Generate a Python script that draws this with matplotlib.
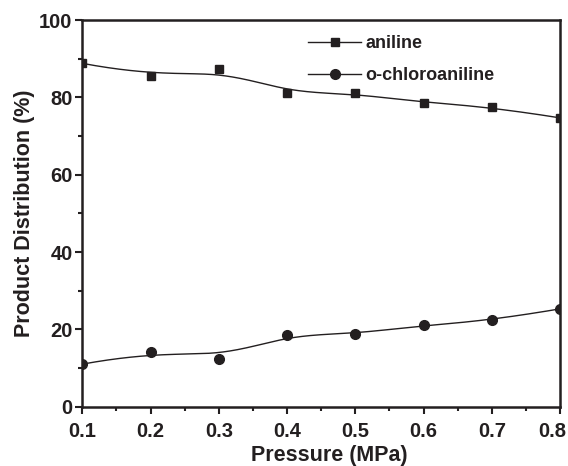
import numpy as np
import matplotlib
matplotlib.use("Agg")
import matplotlib.pyplot as plt
from matplotlib.ticker import MultipleLocator
from matplotlib.transforms import ScaledTranslation

pressure = [0.1, 0.2, 0.3, 0.4, 0.5, 0.6, 0.7, 0.8]
aniline = [88.8, 85.5, 87.4, 81.2, 81.0, 78.6, 77.5, 74.7]
chloroaniline = [11.0, 14.2, 12.4, 18.6, 18.8, 21.1, 22.3, 25.3]
series_labels = ["aniline", "o-chloroaniline"]
x_ticks = [0.1, 0.2, 0.3, 0.4, 0.5, 0.6, 0.7, 0.8]
y_ticks = [0, 20, 40, 60, 80, 100]


def bspline(xs, ys, k=3, num=300):
    """Clamped uniform B-spline with the data as control points (Origin-style B-spline)."""
    P = np.column_stack([xs, ys]).astype(float)
    n = len(P)
    inner = np.arange(1, n - k)
    knots = np.concatenate([np.zeros(k + 1), inner, np.full(k + 1, n - k)]).astype(float)
    t = np.linspace(0, n - k, num)
    t[-1] -= 1e-9
    N = np.zeros((num, len(knots) - 1))
    for i in range(len(knots) - 1):
        N[:, i] = np.where((t >= knots[i]) & (t < knots[i + 1]), 1.0, 0.0)
    for d in range(1, k + 1):
        Nn = np.zeros((num, len(knots) - 1 - d))
        for i in range(len(knots) - 1 - d):
            a = knots[i + d] - knots[i]
            b = knots[i + d + 1] - knots[i + 1]
            term = np.zeros(num)
            if a > 0:
                term += (t - knots[i]) / a * N[:, i]
            if b > 0:
                term += (knots[i + d + 1] - t) / b * N[:, i + 1]
            Nn[:, i] = term
        N = Nn
    C = N @ P
    return C[:, 0], C[:, 1]


plt.rcParams['font.family'] = ['Liberation Sans', 'DejaVu Sans']
plt.rcParams['font.weight'] = 'bold'
INK = '#231f20'

fig = plt.figure(figsize=(5.68, 4.66), dpi=100)
ax = fig.add_axes([0.1449, 0.1273, 0.9859 - 0.1449, 0.957 - 0.1273])

for ys, marker, ms, lab in [(aniline, 's', 6.2, series_labels[0]),
                            (chloroaniline, 'o', 7.0, series_labels[1])]:
    cx, cy = bspline(pressure, ys)
    ax.plot(cx, cy, color=INK, lw=1.0)
    ax.plot(pressure, ys, linestyle='none', marker=marker, ms=ms, color=INK)
    ax.plot([], [], color=INK, lw=1.0, marker=marker, ms=ms, label=lab)

ax.set_xlim(0.1, 0.8)
ax.set_ylim(0, 100)
ax.set_xticks(x_ticks)
ax.set_yticks(y_ticks)
ax.set_xticklabels([f"{v:.1f}" for v in x_ticks])
ax.set_yticklabels([str(v) for v in y_ticks])
ax.xaxis.set_minor_locator(MultipleLocator(0.05))
ax.yaxis.set_minor_locator(MultipleLocator(10))
ax.tick_params(which='major', direction='out', length=5, width=1.5, labelsize=14.5,
               colors=INK)
ax.tick_params(axis='x', which='major', pad=6)
ax.tick_params(axis='y', which='major', pad=2)
ax.tick_params(which='minor', direction='out', length=3, width=1.5, colors=INK)
for s in ax.spines.values():
    s.set_linewidth(1.8)
    s.set_color(INK)

# nudge last x tick label so it stays inside the canvas
lbl = ax.get_xticklabels()[-1]
lbl.set_transform(lbl.get_transform() + ScaledTranslation(-8 / 100, 0, fig.dpi_scale_trans))

ax.set_xlabel("Pressure (MPa)", fontsize=15.5, fontweight='bold', color=INK, labelpad=3)
ax.xaxis.label.set_x(0.517)
ax.set_ylabel("Product Distribution (%)", fontsize=15.5, fontweight='bold', color=INK, labelpad=3)

leg = ax.legend(loc='upper left', bbox_to_anchor=(0.473, 0.961), frameon=False,
                fontsize=13, handlelength=2.94, handletextpad=0.22, labelspacing=0.83,
                borderaxespad=0, borderpad=0)
for t in leg.get_texts():
    t.set_color(INK)

fig.savefig("out.png", dpi=100)
